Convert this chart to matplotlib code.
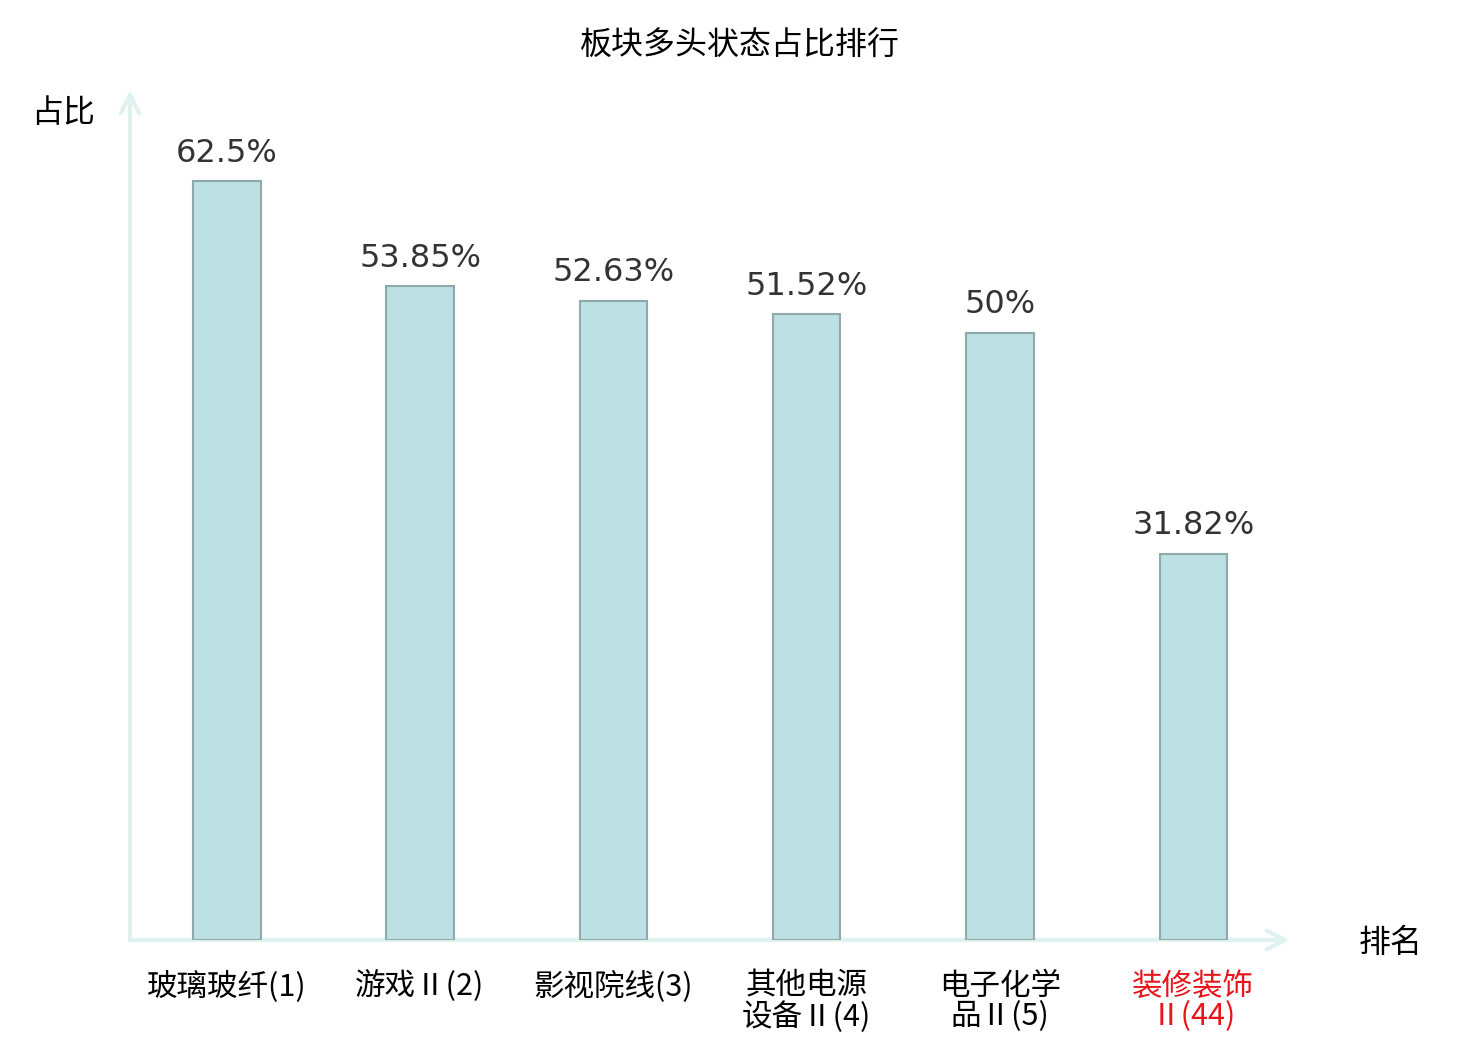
import matplotlib
matplotlib.use("Agg")
import matplotlib.pyplot as plt

plt.rcParams['font.family'] = ['Noto Sans CJK SC', 'DejaVu Sans']

# data
sectors = ['玻璃玻纤(1)', '游戏Ⅱ(2)', '影视院线(3)', '其他电源\n设备Ⅱ(4)',
           '电子化学\n品Ⅱ(5)', '装修装饰\nⅡ(44)']
ratios = [62.5, 53.85, 52.63, 51.52, 50.0, 31.82]
ratio_labels = ['62.5%', '53.85%', '52.63%', '51.52%', '50%', '31.82%']
label_colors = ['black', 'black', 'black', 'black', 'black', '#e8141b']

axis_color = '#dff2ef'
bar_face = '#bce0e3'
bar_edge = '#8faaab'

fig = plt.figure(figsize=(14.8, 10.4), dpi=100)
ax = fig.add_axes([130 / 1480, 100 / 1040, 1160 / 1480, 850 / 1040])

xs = list(range(len(sectors)))
ax.bar(xs, ratios, width=0.35, color=bar_face, edgecolor=bar_edge,
       linewidth=1.5, zorder=2)

for x, v, lab in zip(xs, ratios, ratio_labels):
    ax.annotate(lab, (x, v), xytext=(0, 9), textcoords='offset points',
                ha='center', va='bottom', fontsize=23, color='#333333',
                family='DejaVu Sans')

ax.set_xlim(-0.5, 5.5)
ax.set_ylim(0, 70)
for s in ax.spines.values():
    s.set_visible(False)
ax.set_yticks([])
ax.set_xticks(xs)
ax.set_xticklabels(sectors, fontsize=22, linespacing=0.97)
ax.tick_params(axis='x', length=0, pad=22)
for t, c in zip(ax.get_xticklabels(), label_colors):
    t.set_color(c)
    t.set_verticalalignment('top')

# axis lines with arrow heads
arrow = dict(arrowstyle='->', color=axis_color, lw=3,
             mutation_scale=34, shrinkA=0, shrinkB=0)
ax.annotate('', xy=(0, 1), xytext=(0, 0), xycoords='axes fraction',
            arrowprops=arrow, zorder=1)
ax.annotate('', xy=(1, 0), xytext=(0, 0), xycoords='axes fraction',
            arrowprops=arrow, zorder=1)

fig.text(63 / 1480, 1 - 113 / 1040, '占比', ha='center', va='center',
         fontsize=23)
fig.text(1391 / 1480, 1 - 943 / 1040, '排名', ha='center', va='center',
         fontsize=23)
fig.text(0.5, 1 - 46 / 1040, '板块多头状态占比排行', ha='center',
         va='center', fontsize=23)

fig.savefig('out.png', dpi=100)
